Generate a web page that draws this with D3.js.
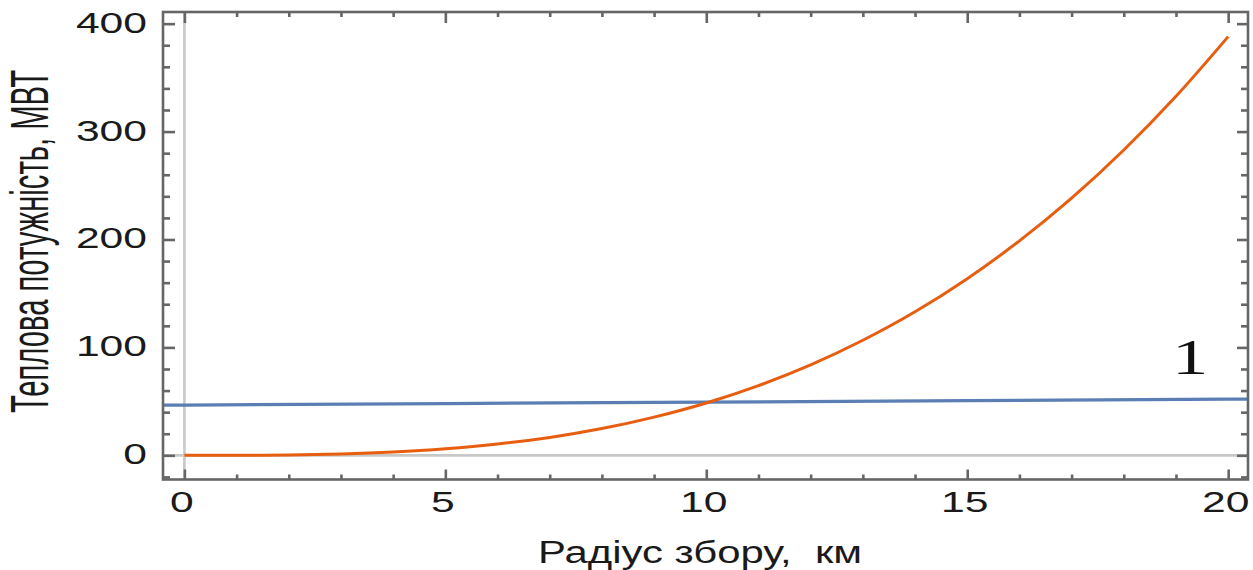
<!DOCTYPE html>
<html>
<head>
<meta charset="utf-8">
<script src="https://cdn.jsdelivr.net/npm/d3@7"></script>
<style>
  html, body { margin: 0; padding: 0; background: #fff; }
  svg { display: block; }
  text { font-family: "Liberation Sans", Arial, sans-serif; fill: #1a1a1a; }
</style>
</head>
<body>
<svg id="chart" width="1253" height="570"></svg>
<script>
// ---- data ----
const xTicksMajor = [0, 5, 10, 15, 20];
const xTickLabels = ["0", "5", "10", "15", "20"];
const yTicksMajor = [0, 100, 200, 300, 400];
const yTickLabels = ["0", "100", "200", "300", "400"];

// orange curve (heat output vs collection radius)
const orangeX = [0, 1, 2, 3, 4, 5, 6, 7, 8, 9, 10, 11, 12, 13, 14, 15, 16, 17, 18, 19, 20];
const orangeY = [0, 0.05, 0.4, 1.3, 3.1, 6.1, 10.5, 16.6, 24.8, 35.4, 48.5, 64.6, 83.8, 106.6, 133, 163.7, 198.7, 238.3, 282.9, 332.7, 388];

// blue line (nearly constant level)
const blueX = [-0.45, 0, 5, 10, 15, 20, 20.45];
const blueY = [46.5, 46.6, 48.0, 49.3, 50.6, 52.0, 52.1];

const curveLabel = "1";
const curveLabelX = 19.27;
const curveLabelY = 75;

const xTitle = "Радіус збору,  км";
const yTitle = "Теплова потужність, МВТ";

// ---- layout ----
const svg = d3.select("#chart");
const L = 163, R = 1248, T = 12, B = 479.5;

const x = d3.scaleLinear().domain([-0.41, 20.38]).range([L, R]);
const y = d3.scaleLinear().domain([-22.4, 410.8]).range([B, T]);

const xMinor = d3.range(0, 21, 1).filter(v => !xTicksMajor.includes(v));
const yMinor = d3.range(-20, 401, 20).filter(v => !yTicksMajor.includes(v));

svg.append("defs").append("clipPath").attr("id", "plotclip")
  .append("rect").attr("x", L).attr("y", T).attr("width", R - L).attr("height", B - T);

// gridlines (axes at 0)
const grid = svg.append("g").attr("stroke", "#c8c8c8").attr("stroke-width", 2.6);
grid.append("line").attr("x1", x(0)).attr("x2", x(0)).attr("y1", T).attr("y2", B);
grid.append("line").attr("x1", L).attr("x2", R).attr("y1", y(0)).attr("y2", y(0));

// curves
const plot = svg.append("g").attr("clip-path", "url(#plotclip)");
const line = d3.line().x(d => x(d[0])).y(d => y(d[1]));

plot.append("path")
  .datum(blueX.map((v, i) => [v, blueY[i]]))
  .attr("d", line)
  .attr("fill", "none").attr("stroke", "#5b7fb5").attr("stroke-width", 3.2);

plot.append("path")
  .datum(orangeX.map((v, i) => [v, orangeY[i]]))
  .attr("d", line.curve(d3.curveCatmullRom))
  .attr("fill", "none").attr("stroke", "#e85e10").attr("stroke-width", 3);

// label "1"
svg.append("text")
  .attr("transform", `translate(${x(curveLabelX)},${y(curveLabelY)}) scale(1.45,1)`)
  .attr("text-anchor", "middle")
  .style("font-family", "'Liberation Serif', 'Times New Roman', serif")
  .style("font-size", "50px")
  .style("fill", "#111")
  .text(curveLabel);

// ---- axes / frame ticks ----
function styleAxis(g) {
  g.select(".domain").remove();
  g.selectAll(".tick line").attr("stroke", "#666").attr("stroke-width", 2.6);
}

// left major with labels
const gLeft = svg.append("g").attr("transform", `translate(${L},0)`)
  .call(d3.axisLeft(y).tickValues(yTicksMajor).tickSize(-12).tickSizeOuter(0)
    .tickFormat((d, i) => yTickLabels[i]));
styleAxis(gLeft);
gLeft.selectAll(".tick text")
  .attr("x", null).attr("dy", null)
  .attr("transform", "translate(-16,8.5) scale(1.47,1)")
  .attr("text-anchor", "end")
  .style("font-size", "29px").style("font-family", "'Liberation Sans', Arial, sans-serif")
  .attr("fill", "#1a1a1a");

// left minor
styleAxis(svg.append("g").attr("transform", `translate(${L},0)`)
  .call(d3.axisLeft(y).tickValues(yMinor).tickSize(-7).tickSizeOuter(0).tickFormat("")));

// right major / minor
styleAxis(svg.append("g").attr("transform", `translate(${R},0)`)
  .call(d3.axisRight(y).tickValues(yTicksMajor).tickSize(-11).tickSizeOuter(0).tickFormat("")));
styleAxis(svg.append("g").attr("transform", `translate(${R},0)`)
  .call(d3.axisRight(y).tickValues(yMinor).tickSize(-7).tickSizeOuter(0).tickFormat("")));

// bottom major with labels
const gBottom = svg.append("g").attr("transform", `translate(0,${B})`)
  .call(d3.axisBottom(x).tickValues(xTicksMajor).tickSize(-10).tickSizeOuter(0)
    .tickFormat((d, i) => xTickLabels[i]));
styleAxis(gBottom);
gBottom.selectAll(".tick text")
  .attr("y", null).attr("dy", null)
  .attr("transform", "translate(-3,32.5) scale(1.47,1)")
  .attr("text-anchor", "middle")
  .style("font-size", "29px").style("font-family", "'Liberation Sans', Arial, sans-serif")
  .attr("fill", "#1a1a1a");

// bottom minor
styleAxis(svg.append("g").attr("transform", `translate(0,${B})`)
  .call(d3.axisBottom(x).tickValues(xMinor).tickSize(-5).tickSizeOuter(0).tickFormat("")));

// top major / minor
styleAxis(svg.append("g").attr("transform", `translate(0,${T})`)
  .call(d3.axisTop(x).tickValues(xTicksMajor).tickSize(-11).tickSizeOuter(0).tickFormat("")));
styleAxis(svg.append("g").attr("transform", `translate(0,${T})`)
  .call(d3.axisTop(x).tickValues(xMinor).tickSize(-5).tickSizeOuter(0).tickFormat("")));

// frame
svg.append("rect")
  .attr("x", L).attr("y", T).attr("width", R - L).attr("height", B - T)
  .attr("fill", "none").attr("stroke", "#666").attr("stroke-width", 2.6);

// axis titles
svg.append("text")
  .attr("x", 700).attr("y", 563)
  .attr("text-anchor", "middle")
  .attr("textLength", 324).attr("lengthAdjust", "spacingAndGlyphs")
  .style("font-size", "31px").style("white-space", "pre")
  .text(xTitle);

svg.append("text")
  .attr("transform", "translate(48,241.5) rotate(-90) scale(1,1.83)")
  .attr("text-anchor", "middle")
  .attr("textLength", 343).attr("lengthAdjust", "spacingAndGlyphs")
  .style("font-size", "29px")
  .text(yTitle);
</script>
</body>
</html>
